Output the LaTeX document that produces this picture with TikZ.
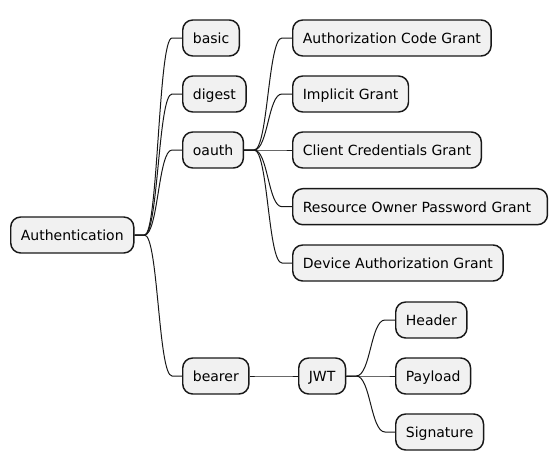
\documentclass[tikz,border=0pt]{standalone}
\usepackage{fontspec}
\setmainfont{DejaVu Sans}
\usetikzlibrary{calc}
\definecolor{nodefill}{HTML}{F1F1F1}
\definecolor{nodeline}{HTML}{181818}
\newcommand\mmedge[2]{\draw[link] let \p1=(#1.east), \p2=(#2.west) in (\p1) -- (\x1+7.5pt,\y1) .. controls ({(\x1+\x2)/2},\y1) and ({(\x1+\x2)/2},\y2) .. (\x2-7.5pt,\y2) -- (\p2);}
\begin{document}
\begin{tikzpicture}[x=0.75pt,y=-0.75pt,
  mm/.style={draw=nodeline,fill=nodefill,line width=1.1pt,rounded corners=7.5pt,minimum height=27pt,inner xsep=7.6pt,inner ysep=0pt,text height=9.3pt,text depth=0.9pt,anchor=west,font=\fontsize{10.5pt}{12pt}\selectfont},
  link/.style={draw=nodeline,line width=0.75pt}]
\useasboundingbox (0,0) rectangle (558,471);
\node[mm] (auth) at (10,235) {Authentication};
\node[mm] (basic) at (182,38) {basic};
\node[mm] (digest) at (182,94) {digest};
\node[mm] (oauth) at (182,150) {oauth};
\node[mm] (bearer) at (182,376) {bearer};
\node[mm] (acg) at (292,38) {Authorization Code Grant};
\node[mm] (ig) at (292,94) {Implicit Grant};
\node[mm] (ccg) at (292,150) {Client Credentials Grant};
\node[mm] (ropg) at (292,206.7) {Resource Owner Password Grant\rule{4.7pt}{0pt}};
\node[mm] (dag) at (292,263) {Device Authorization Grant};
\node[mm] (jwt) at (298,376) {JWT};
\node[mm] (header) at (395,320) {Header};
\node[mm] (payload) at (395,376) {Payload};
\node[mm] (signature) at (395,432) {Signature};
\mmedge{auth}{basic}
\mmedge{auth}{digest}
\mmedge{auth}{oauth}
\mmedge{auth}{bearer}
\mmedge{oauth}{acg}
\mmedge{oauth}{ig}
\mmedge{oauth}{ccg}
\mmedge{oauth}{ropg}
\mmedge{oauth}{dag}
\mmedge{bearer}{jwt}
\mmedge{jwt}{header}
\mmedge{jwt}{payload}
\mmedge{jwt}{signature}
\end{tikzpicture}
\end{document}
